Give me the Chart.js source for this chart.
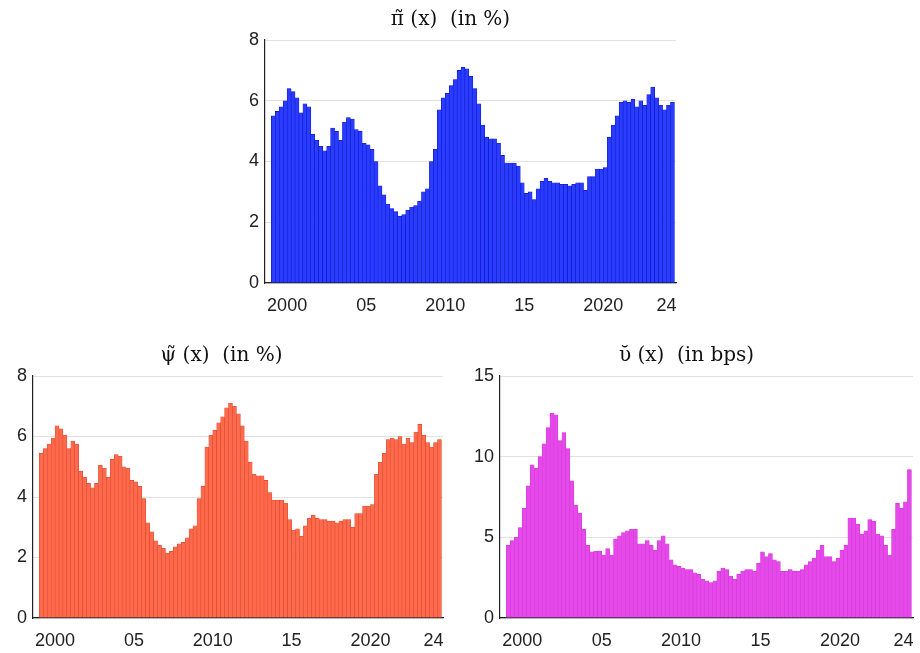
<!DOCTYPE html>
<html>
<head>
<meta charset="utf-8">
<script src="https://cdn.jsdelivr.net/npm/chart.js@4.4.1/dist/chart.umd.min.js"></script>
<style>
body{margin:0;background:#fff;width:920px;height:653px;position:relative;overflow:hidden}
.box{position:absolute}
</style>
</head>
<body>
<div class="box" style="left:225px;top:0px;width:460px;height:320px"><canvas id="c_pi"></canvas></div>
<div class="box" style="left:0px;top:340px;width:450px;height:313px"><canvas id="c_psi"></canvas></div>
<div class="box" style="left:460px;top:340px;width:460px;height:313px"><canvas id="c_ups"></canvas></div>
<script>
// quarterly, 1999Q1 .. 2024Q2
const startYear = 1999
const xTicks = [2000, 2005, 2010, 2015, 2020, 2024]
const xTickLabels = ["2000", "05", "2010", "15", "2020", "24"]

const piVals = [5.5,5.65,5.8,6.0, 6.4,6.3,6.1,5.6, 5.9,5.8,4.9,4.7, 4.5,4.35,4.5,5.1,
  5.0,4.7,5.3,5.45, 5.4,5.05,5.0,4.6, 4.55,4.4,4.0,3.2, 2.9,2.6,2.45,2.35,
  2.2,2.25,2.4,2.5, 2.55,2.7,3.0,3.1, 4.0,4.4,5.7,6.1, 6.25,6.5,6.7,7.0,
  7.1,7.05,6.8,6.4, 5.9,5.2,4.8,4.75, 4.75,4.6,4.2,3.95, 3.95,3.95,3.85,3.3,
  2.95,3.0,2.75,3.1, 3.35,3.45,3.35,3.3, 3.3,3.25,3.25,3.2, 3.25,3.3,3.3,3.05,
  3.5,3.5,3.75,3.75, 3.8,4.8,5.2,5.5, 5.95,6.0,5.95,6.05, 5.8,6.0,5.85,6.2,
  6.45,6.1,5.85,5.7, 5.85,5.95]

const psiVals = [5.45,5.6,5.75,5.95, 6.35,6.25,6.05,5.6, 5.85,5.75,4.85,4.65, 4.45,4.3,4.45,5.05,
  4.95,4.65,5.25,5.4, 5.35,5.0,4.95,4.55, 4.5,4.35,3.95,3.15, 2.85,2.55,2.4,2.3,
  2.15,2.2,2.35,2.45, 2.5,2.65,2.95,3.05, 3.95,4.35,5.65,6.05, 6.2,6.45,6.65,6.95,
  7.1,7.0,6.75,6.35, 5.85,5.15,4.75,4.7, 4.7,4.55,4.15,3.9, 3.9,3.9,3.8,3.25,
  2.9,2.95,2.7,3.05, 3.3,3.4,3.3,3.25, 3.25,3.2,3.2,3.15, 3.2,3.25,3.25,3.0,
  3.45,3.45,3.7,3.7, 3.75,4.75,5.15,5.45, 5.9,5.95,5.9,6.0, 5.75,5.95,5.8,6.15,
  6.4,6.05,5.8,5.65, 5.8,5.9]

const upsVals = [4.5,4.8,5.0,5.6, 6.8,8.2,9.5,9.3, 10.0,10.8,11.8,12.7, 12.6,11.0,11.5,10.5,
  8.5,7.0,6.5,5.5, 4.5,4.1,4.15,4.15, 3.9,4.3,3.9,4.9, 5.1,5.3,5.4,5.5,
  5.5,4.6,4.6,4.8, 4.5,4.2,4.8,5.1, 4.6,3.6,3.3,3.2, 3.1,3.0,3.0,2.8,
  2.7,2.4,2.3,2.2, 2.3,2.9,3.1,3.0, 2.6,2.4,2.7,2.9, 3.0,3.0,2.9,3.4,
  4.1,3.8,4.0,3.6, 3.5,2.9,2.9,3.0, 2.9,2.9,3.0,3.3, 3.5,3.7,4.2,4.5,
  3.8,3.8,3.5,3.7, 4.2,4.5,6.2,6.2, 5.8,5.2,5.4,6.1, 6.0,5.2,5.1,4.5,
  3.9,5.5,7.1,6.8, 7.2,9.2]

function make_chart(id, vals, title, fill, edge, yMax, yStep, yW, pad){
    const pts = vals.map((v,i)=>({x: startYear + i/4 + 0.125, y: v}))
    return new Chart(document.getElementById(id), {
        type: 'bar',
        data: {datasets: [{data: pts, backgroundColor: fill, borderColor: edge, borderWidth: 0.6,
            barPercentage: 1, categoryPercentage: 1}]},
        options: {
            animation: false, responsive: true, maintainAspectRatio: false,
            layout: {padding: pad},
            plugins: {
                legend: {display: false}, tooltip: {enabled: false},
                title: {display: true, text: title, color: '#111',
                    font: {family: 'DejaVu Serif', size: 20, weight: 'normal'}, padding: {top: 0, bottom: 8}}
            },
            scales: {
                x: {
                    type: 'linear', min: 1998.6, max: 2024.6, offset: false,
                    afterBuildTicks: ax => { ax.ticks = xTicks.map(v=>({value: v})) },
                    afterFit: ax => { ax.height = 30 },
                    ticks: {color: '#222', font: {family: 'Liberation Sans', size: 18}, maxRotation: 0, padding: 4,
                        callback: v => xTickLabels[xTicks.indexOf(v)]},
                    grid: {display: false},
                    border: {color: '#222', width: 1.2}
                },
                y: {
                    min: 0, max: yMax,
                    afterFit: ax => { ax.width = yW },
                    ticks: {stepSize: yStep, color: '#222', font: {family: 'Liberation Sans', size: 18}, padding: 6},
                    grid: {color: '#e2e2e2', drawTicks: false},
                    border: {color: '#222', width: 1.2}
                }
            }
        }
    })
}

make_chart('c_pi', piVals, 'π̃ (x)  (in %)', '#2a3cff', '#0a14c8', 8, 2, 40, {top: 8, right: 9, bottom: 7, left: 0})
make_chart('c_psi', psiVals, 'ψ̃ (x)  (in %)', '#ff6a4d', '#d9482e', 8, 2, 33, {top: 4, right: 7, bottom: 5, left: 0})
make_chart('c_ups', upsVals, 'ῠ (x)  (in bps)', '#e648ea', '#cf3ad8', 15, 5, 40, {top: 4, right: 7, bottom: 5, left: 0})
</script>
</body>
</html>
